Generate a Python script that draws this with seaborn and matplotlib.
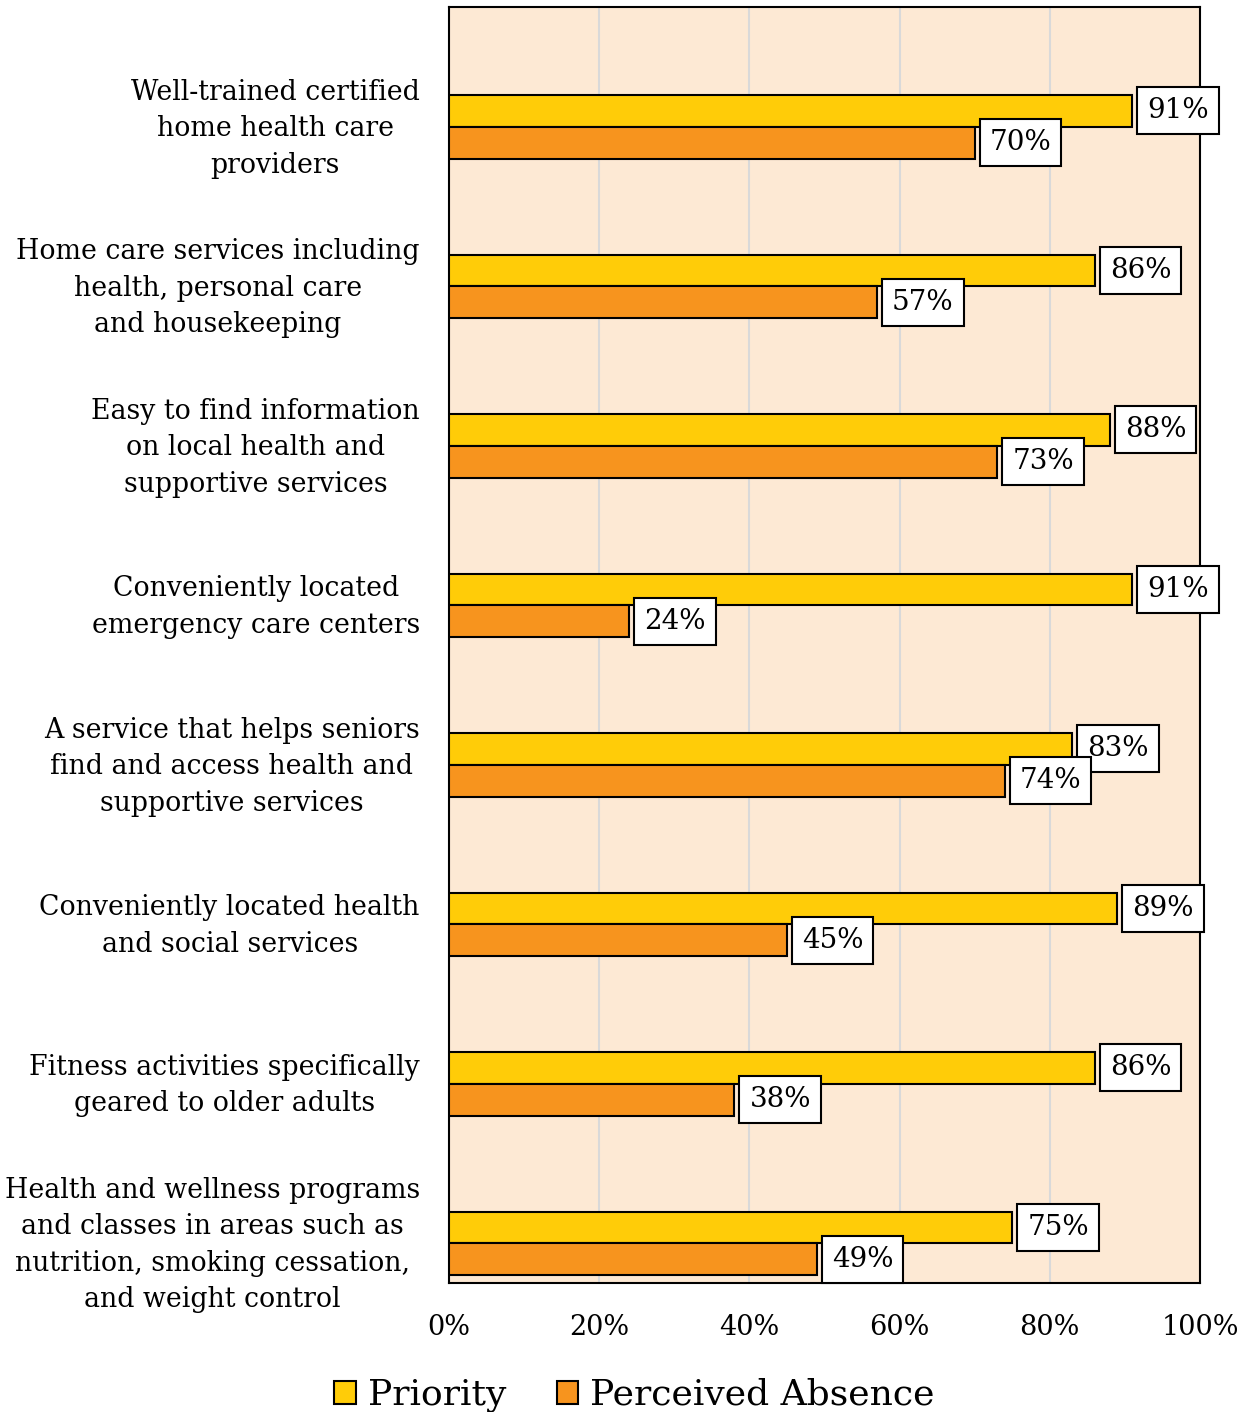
import matplotlib
matplotlib.use("Agg")
import matplotlib.pyplot as plt
import matplotlib.transforms as mtransforms
import seaborn as sns
import pandas as pd
from matplotlib.patches import Patch

categories = [
    "Well-trained certified\nhome health care\nproviders",
    "Home care services including\nhealth, personal care\nand housekeeping",
    "Easy to find information\non local health and\nsupportive services",
    "Conveniently located\nemergency care centers",
    "A service that helps seniors\nfind and access health and\nsupportive services",
    "Conveniently located health\nand social services",
    "Fitness activities specifically\ngeared to older adults",
    "Health and wellness programs\nand classes in areas such as\nnutrition, smoking cessation,\nand weight control",
]
priority = [91, 86, 88, 91, 83, 89, 86, 75]
perceived_absence = [70, 57, 73, 24, 74, 45, 38, 49]
series_names = ["Priority", "Perceived Absence"]
x_ticks = [0, 20, 40, 60, 80, 100]
x_tick_labels = ["0%", "20%", "40%", "60%", "80%", "100%"]

colors = {"Priority": "#FFCC08", "Perceived Absence": "#F7941E"}
bg = "#FDE9D4"

df = pd.DataFrame({
    "category": categories * 2,
    "series": [series_names[0]] * len(categories) + [series_names[1]] * len(categories),
    "value": priority + perceived_absence,
})

sns.set_theme(style="white")
plt.rcParams["font.family"] = ["DejaVu Serif"]

fig = plt.figure(figsize=(12.54, 14.12), dpi=100)
ax = fig.add_axes([449 / 1254, 1 - 1283 / 1412, 751 / 1254, 1276 / 1412])
ax.set_facecolor(bg)

sns.barplot(data=df, y="category", x="value", hue="series", orient="h",
            palette=colors, saturation=1, width=0.4, edgecolor="black",
            linewidth=1.5, order=categories, hue_order=series_names,
            legend=False, ax=ax, zorder=3)

ax.set_xlim(0, 100)
ax.set_ylim(7.248, -0.752)
ax.set_xticks(x_ticks)
ax.set_xticklabels(x_tick_labels)
ax.xaxis.grid(True, color="#D9D9D9", linewidth=1.5, zorder=0)
ax.set_axisbelow(True)
ax.set_xlabel("")
ax.set_ylabel("")
ax.tick_params(axis="both", length=0, colors="black")
ax.tick_params(axis="y", pad=21, labelsize=19.3)
ax.tick_params(axis="x", pad=22, labelsize=19.5)

# nudge the multi-line category labels up a little so they sit on the bar pair
nudge = mtransforms.ScaledTranslation(0, 6 / 100, fig.dpi_scale_trans)
for lbl in ax.get_yticklabels():
    lbl.set_multialignment("center")
    lbl.set_linespacing(1.45)
    lbl.set_transform(lbl.get_transform() + nudge)
for s in ax.spines.values():
    s.set_color("black")
    s.set_linewidth(1.5)

for p in ax.patches:
    w = p.get_width()
    if w <= 0:
        continue
    yc = p.get_y() + p.get_height() / 2
    ax.annotate(f"{w:.0f}%", xy=(w, yc), xytext=(15, 0), textcoords="offset pixels",
                ha="left", va="center", fontsize=20, color="black", zorder=5,
                bbox=dict(boxstyle="square,pad=0.36", facecolor="white",
                          edgecolor="black", linewidth=1.5))

handles = [Patch(facecolor=colors[s], edgecolor="black", linewidth=1.5, label=s)
           for s in series_names]
fig.legend(handles=handles, loc="center", bbox_to_anchor=(0.506, 0.012), ncol=2,
           frameon=False, fontsize=26, labelcolor="black", handlelength=0.6,
           handleheight=0.6, handletextpad=0.33, columnspacing=1.4)

fig.savefig("out.png", dpi=100)
